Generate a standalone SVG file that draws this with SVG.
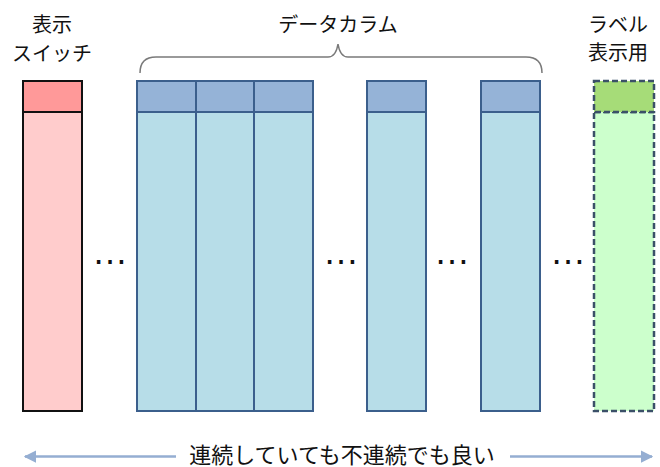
<svg xmlns="http://www.w3.org/2000/svg" width="660" height="467" viewBox="0 0 660 467">
<defs>
<style>
.lbl{font-family:"Liberation Sans","Noto Sans CJK JP",sans-serif;font-size:20px;fill:#111}
.bot{font-family:"Liberation Sans","Noto Sans CJK JP",sans-serif;font-size:22px;fill:#111}
.dots{font-family:"Liberation Sans",sans-serif;font-size:36px;fill:#111}
.pk{fill:#ffcccc;stroke:#111;stroke-width:2}
.pkh{fill:#ff9999;stroke:#111;stroke-width:2}
.bl{fill:#b7dde8;stroke:#3b5f8c;stroke-width:2}
.blh{fill:#95b3d7;stroke:#3b5f8c;stroke-width:2}
.gr{fill:#ccffcc;stroke:#3b5068;stroke-width:2.5;stroke-dasharray:6 3}
.grh{fill:#a6dc78;stroke:#3b5068;stroke-width:2.5;stroke-dasharray:6 3}
.arr{stroke:#95aed2;stroke-width:2.5;fill:none}
</style>
<marker id="ah" viewBox="0 0 10 10" refX="9" refY="5" markerWidth="5" markerHeight="5" orient="auto-start-reverse" markerUnits="strokeWidth">
<path d="M0,0 L10,5 L0,10 z" fill="#95aed2"/>
</marker>
</defs>
<g id="switch">
<text class="lbl" x="52" y="32" text-anchor="middle">表示</text>
<text class="lbl" x="52" y="61" text-anchor="middle">スイッチ</text>
<rect class="pk" x="23" y="112" width="59" height="299"/>
<rect class="pkh" x="23" y="81" width="59" height="31"/>
</g>
<g id="data-label">
<text class="lbl" x="338" y="32" text-anchor="middle">データカラム</text>
<path d="M140,73 Q140,57 156,57 L328,57 Q336,57 338,44 Q340,57 348,57 L526,57 Q542,57 542,73" fill="none" stroke="#7a7a7a" stroke-width="1.5"/>
</g>
<g id="col1"><rect class="bl" x="137" y="112" width="59" height="299"/><rect class="blh" x="137" y="81" width="59" height="31"/></g>
<g id="col2"><rect class="bl" x="196" y="112" width="58" height="299"/><rect class="blh" x="196" y="81" width="58" height="31"/></g>
<g id="col3"><rect class="bl" x="254" y="112" width="59" height="299"/><rect class="blh" x="254" y="81" width="59" height="31"/></g>
<g id="col4"><rect class="bl" x="367" y="112" width="59" height="299"/><rect class="blh" x="367" y="81" width="59" height="31"/></g>
<g id="col5"><rect class="bl" x="481" y="112" width="59" height="299"/><rect class="blh" x="481" y="81" width="59" height="31"/></g>
<g id="label-col">
<text class="lbl" x="588" y="32">ラベル</text>
<text class="lbl" x="588" y="60">表示用</text>
<rect class="gr" x="594" y="112" width="60" height="299"/>
<rect class="grh" x="594" y="81" width="60" height="31"/>
</g>
<g id="ellipses">
<text class="dots" x="110" y="264" text-anchor="middle">…</text>
<text class="dots" x="341" y="264" text-anchor="middle">…</text>
<text class="dots" x="452" y="264" text-anchor="middle">…</text>
<text class="dots" x="568" y="264" text-anchor="middle">…</text>
</g>
<g id="connectors">
<line class="arr" x1="176" y1="456.5" x2="25" y2="456.5" marker-end="url(#ah)"/>
<line class="arr" x1="510" y1="456.5" x2="652" y2="456.5" marker-end="url(#ah)"/>
</g>
<g id="note">
<text class="bot" x="342" y="463" text-anchor="middle">連続していても不連続でも良い</text>
</g>
</svg>
